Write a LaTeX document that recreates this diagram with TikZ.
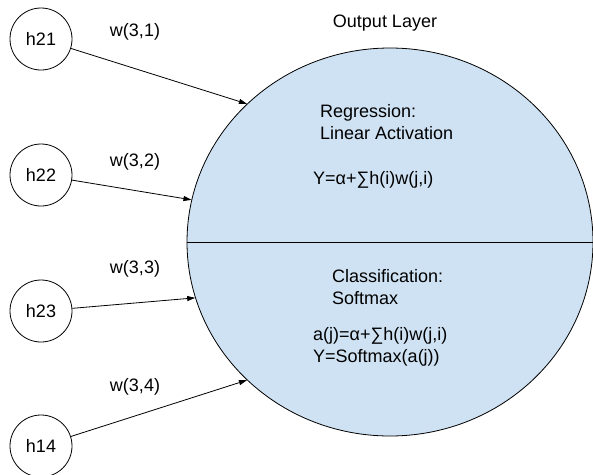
\documentclass[tikz,border=0pt]{standalone}
\usepackage{fontspec}
\setmainfont{Liberation Sans}
\usetikzlibrary{arrows.meta, positioning, shapes.geometric}
\definecolor{lightblue}{HTML}{CFE2F3}

\begin{document}
\begin{tikzpicture}[x=1pt, y=-1pt,
    font=\fontsize{18}{22}\selectfont,
    hidden/.style={circle, draw, line width=0.8pt, minimum size=62pt, inner sep=0pt},
    weight/.style={-{Triangle[length=8pt, width=5pt]}, line width=0.8pt},
    block/.style={anchor=west, align=left, inner sep=0pt}]
  \useasboundingbox (0,0) rectangle (593,474);
  % Output neuron, split in two halves
  \node[ellipse, fill=lightblue, draw, line width=0.8pt, minimum width=406pt, minimum height=388pt, inner sep=0pt] (out) at (390,242) {};
  \draw[line width=0.8pt] (out.west) -- (out.east);
  \node (title) at (385,23) {Output Layer};

  \node[block] (reg) at (320,122) {Regression:\\Linear Activation};
  \node[block] (regeq) at (313,180) {Y=α+∑h(i)w(j,i)};
  \node[block] (cls) at (332,287) {Classification:\\Softmax};
  \node[block] (clseq) at (313,347) {a(j)=α+∑h(i)w(j,i)\\Y=Softmax(a(j))};

  % Hidden units
  \node[hidden] (h21) at (41,39) {h21};
  \node[hidden] (h22) at (41,175) {h22};
  \node[hidden] (h23) at (41,311) {h23};
  \node[hidden] (h14) at (41,446) {h14};

  % Weights
  \draw[weight] (h21) -- (out.136);
  \draw[weight] (h22) -- (out.168);
  \draw[weight] (h23) -- (out.196);
  \draw[weight] (h14) -- (out.224);
  \node (w31) at (135,32) {w(3,1)};
  \node (w32) at (135,162) {w(3,2)};
  \node (w33) at (135,269) {w(3,3)};
  \node (w34) at (135,387) {w(3,4)};
\end{tikzpicture}
\end{document}
